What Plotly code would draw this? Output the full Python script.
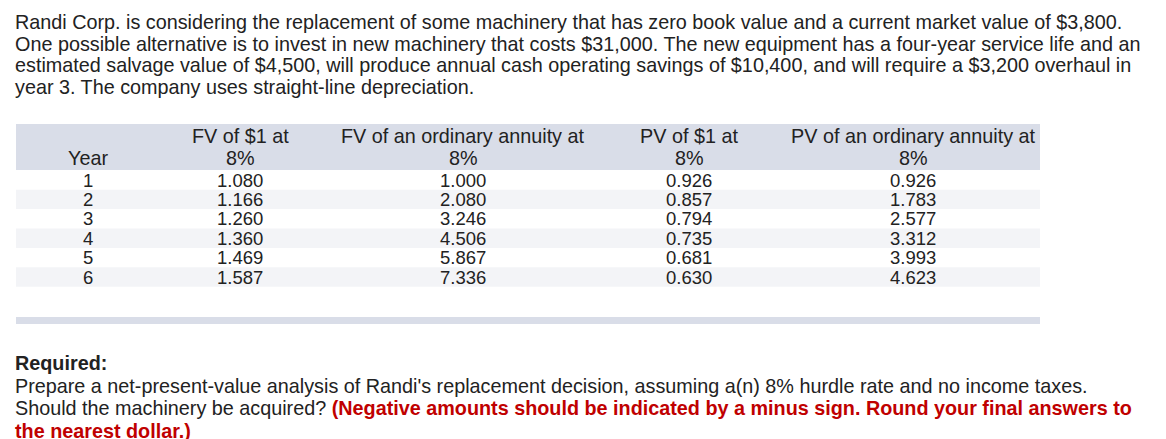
import plotly.graph_objects as go

W, H = 1166, 439

intro_lines = [
    "Randi Corp. is considering the replacement of some machinery that has zero book value and a current market value of $3,800.",
    "One possible alternative is to invest in new machinery that costs $31,000. The new equipment has a four-year service life and an",
    "estimated salvage value of $4,500, will produce annual cash operating savings of $10,400, and will require a $3,200 overhaul in",
    "year 3. The company uses straight-line depreciation.",
]

header_top = ["", "FV of $1 at", "FV of an ordinary annuity at", "PV of $1 at", "PV of an ordinary annuity at"]
header_bottom = ["Year", "8%", "8%", "8%", "8%"]
years = ["1", "2", "3", "4", "5", "6"]
fv_1 = ["1.080", "1.166", "1.260", "1.360", "1.469", "1.587"]
fv_annuity = ["1.000", "2.080", "3.246", "4.506", "5.867", "7.336"]
pv_1 = ["0.926", "0.857", "0.794", "0.735", "0.681", "0.630"]
pv_annuity = ["0.926", "1.783", "2.577", "3.312", "3.993", "4.623"]

req_lines = [
    "<b>Required:</b>",
    "Prepare a net-present-value analysis of Randi's replacement decision, assuming a(n) 8% hurdle rate and no income taxes.",
    "Should the machinery be acquired? <b><span style='color:#c00000'>(Negative amounts should be indicated by a minus sign. Round your final answers to</span></b>",
    "<b><span style='color:#c00000'>the nearest dollar.)</span></b>",
]

font = "Liberation Sans, Arial, sans-serif"
txt = "#222"
col_centers = [80, 232, 455, 681, 905]
table_x0, table_x1 = 8, 1032
row_h = 19.4
first_row = 172

fig = go.Figure()

def add_text(t, x, y, anchor="center", size=19.8):
    fig.add_annotation(text=t, x=x, y=H - y, xanchor=anchor, yanchor="middle",
                       showarrow=False, font=dict(family=font, size=size, color=txt))

for i, t in enumerate(intro_lines):
    add_text(t, 5, 14 + i * 21.6, "left")

# header band
fig.add_shape(type="rect", x0=table_x0, x1=table_x1, y0=H - 162, y1=H - 116,
              fillcolor="#d9dde8", line=dict(width=0))
for c, top, bot in zip(col_centers, header_top, header_bottom):
    if top:
        add_text(top, c, 128)
    add_text(bot, c, 150)

columns = [years, fv_1, fv_annuity, pv_1, pv_annuity]
for r in range(len(years)):
    yc = first_row + r * row_h
    if r % 2 == 1:
        fig.add_shape(type="rect", x0=table_x0, x1=table_x1, y0=H - yc - row_h / 2,
                      y1=H - yc + row_h / 2, fillcolor="#f3f4f7", line=dict(width=0), layer="below")
    for c, col in zip(col_centers, columns):
        add_text(col[r], c, yc, size=18.5)

fig.add_shape(type="rect", x0=table_x0, x1=table_x1, y0=H - 316, y1=H - 309,
              fillcolor="#d9dde8", line=dict(width=0))

for i, t in enumerate(req_lines):
    add_text(t, 5, 355 + i * 22.5, "left")

fig.add_shape(type="line", x0=0, x1=820, y0=1, y1=1, line=dict(color="#dddddd", width=2))

fig.update_xaxes(range=[0, W], visible=False, fixedrange=True)
fig.update_yaxes(range=[0, H], visible=False, fixedrange=True)
fig.update_layout(width=W, height=H, margin=dict(l=0, r=0, t=0, b=0),
                  plot_bgcolor="white", paper_bgcolor="white", showlegend=False)

fig.write_html("out.html")
